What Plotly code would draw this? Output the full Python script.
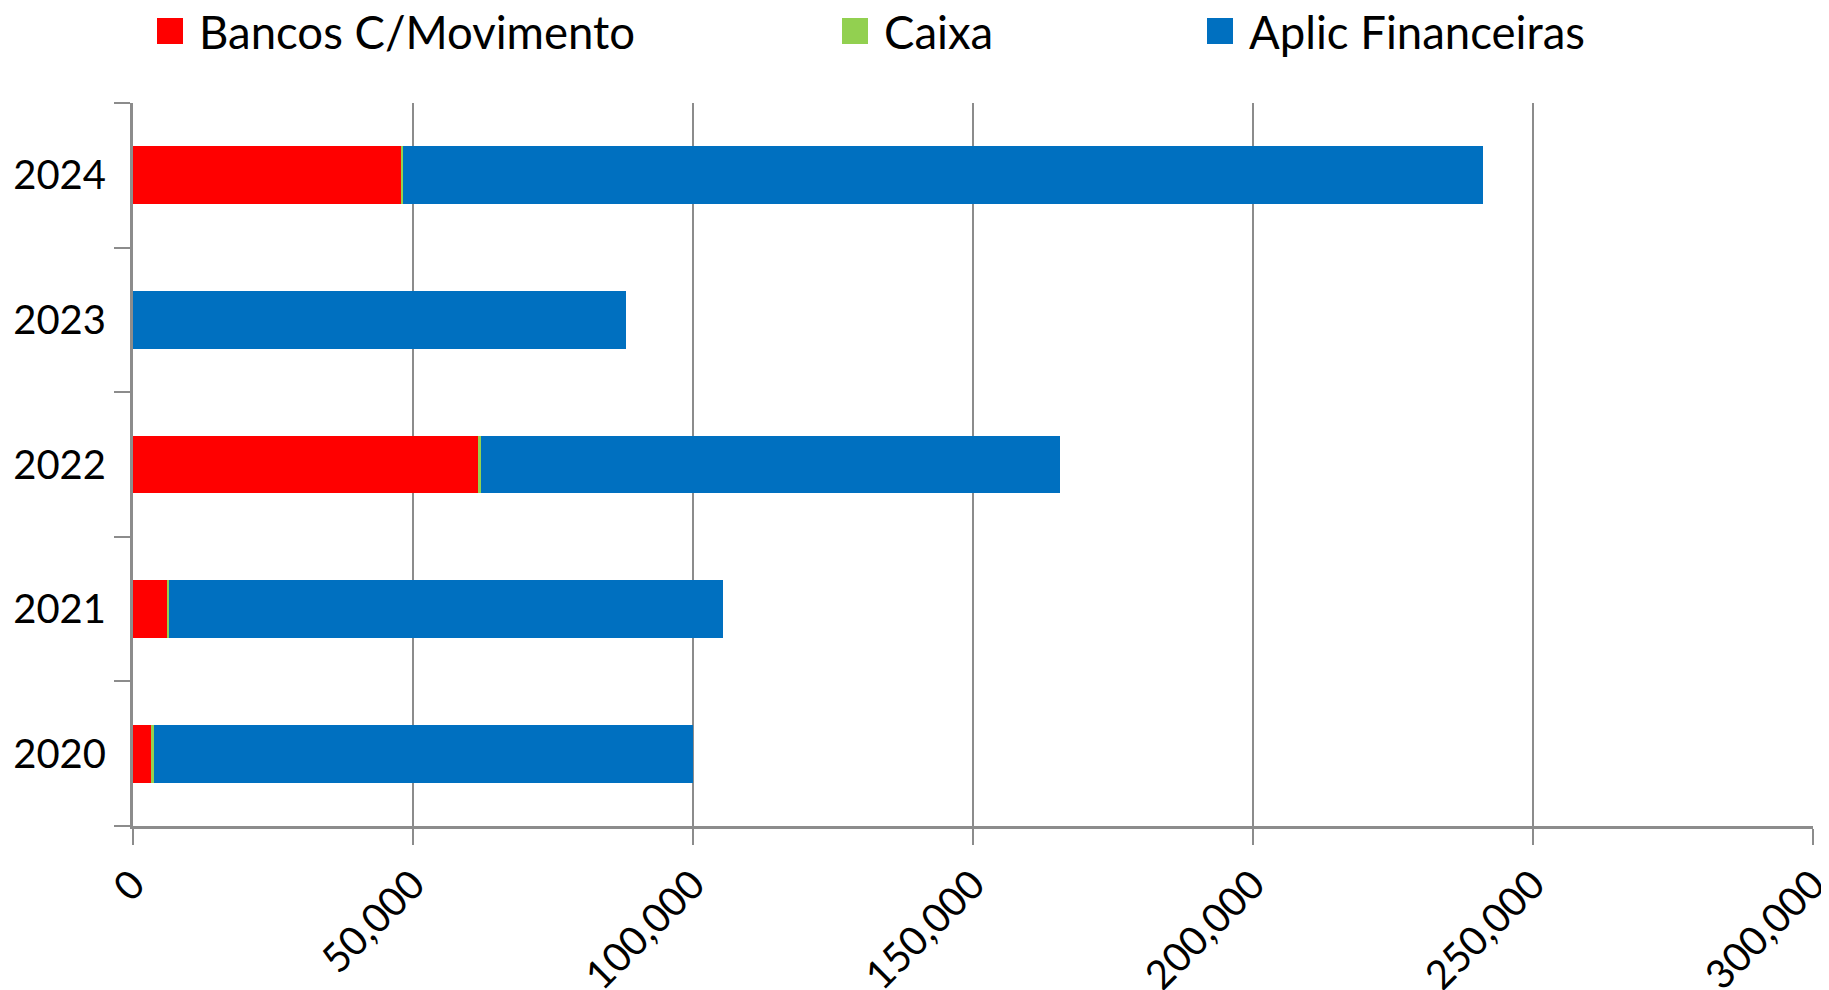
import plotly.graph_objects as go

years = ["2020", "2021", "2022", "2023", "2024"]
bancos = [3300, 6000, 61600, 0, 47900]
caixa = [400, 400, 500, 0, 300]
aplic = [96300, 99000, 103400, 88100, 192900]

names = ["Bancos C/Movimento", "Caixa", "Aplic Financeiras"]
colors = ["#FF0000", "#92D050", "#0070C0"]

FONT = "Lato"
OFF = 8  # page body margin the browser puts around the plot div
W, H = 1829, 990
L, R, T, B = 133 - OFF, 24, 103 - OFF, 172


# screen pixel -> paper coords
def px_x(p):
    return (p - OFF - L) / (W - L - R)


def px_y(p):
    return (H - B - (p - OFF)) / (H - T - B)


fig = go.Figure()
for name, vals, color in zip(names, [bancos, caixa, aplic], colors):
    fig.add_trace(go.Bar(
        y=years, x=vals, name=name, orientation="h",
        marker=dict(color=color, line=dict(width=0)),
        showlegend=False,
    ))

# Excel-style legend along the top: big square swatch + label
legend_left = [157, 842, 1207]
for name, color, left in zip(names, colors, legend_left):
    fig.add_shape(
        type="rect", xref="paper", yref="paper",
        x0=px_x(left), x1=px_x(left + 26), y0=px_y(44), y1=px_y(18),
        fillcolor=color, line=dict(width=0),
    )
    fig.add_annotation(
        x=px_x(left + 40), y=px_y(32), xref="paper", yref="paper",
        text=name, showarrow=False, xanchor="left", yanchor="middle",
        font=dict(family=FONT, size=45.5, color="black"),
    )

fig.update_layout(
    barmode="stack",
    bargap=0.6,
    width=W, height=H,
    margin=dict(l=L, r=R, t=T, b=B),
    plot_bgcolor="white", paper_bgcolor="white",
    showlegend=False,
    font=dict(family=FONT, size=40, color="black"),
    xaxis=dict(
        range=[0, 300000], tickvals=[0, 50000, 100000, 150000, 200000, 250000, 300000],
        tickformat=",", tickangle=-45, ticklabeloverflow="allow",
        showgrid=True, gridcolor="#8c8c8c", gridwidth=2,
        showline=True, linecolor="#8c8c8c", linewidth=3,
        ticks="outside", ticklen=16, tickcolor="#8c8c8c", tickwidth=2,
        zeroline=False, fixedrange=True, automargin=False,
        tickfont=dict(family=FONT, size=40, color="black"),
    ),
    yaxis=dict(
        type="category", categoryorder="array", categoryarray=years,
        showline=True, linecolor="#8c8c8c", linewidth=3,
        ticks="outside", ticklen=16, tickcolor="#8c8c8c", tickwidth=2,
        tickson="boundaries", ticklabelstandoff=16,
        showgrid=False, fixedrange=True, automargin=False,
        tickfont=dict(family=FONT, size=40, color="black"),
    ),
)

fig.write_html("out.html")
